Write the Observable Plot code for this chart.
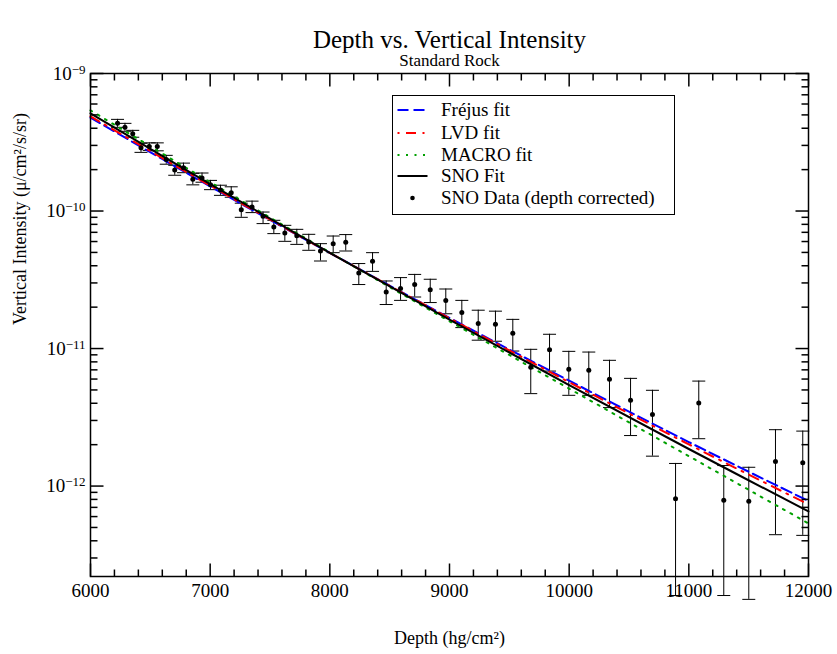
<!DOCTYPE html>
<html><head><meta charset="utf-8">
<script src="https://cdn.jsdelivr.net/npm/d3@7"></script>
<script src="https://cdn.jsdelivr.net/npm/@observablehq/plot@0.6"></script>
<style>
body{margin:0;background:#fff;}
#wrap{position:relative;width:837px;height:654px;font-family:"Liberation Serif","Times New Roman",serif;}
#wrap svg text{font-family:"Liberation Serif","Times New Roman",serif !important;font-variant:normal !important;}
#legend{position:absolute;left:392px;top:95px;width:283px;height:120px;border:1.5px solid #000;background:#fff;box-sizing:border-box;}
.row{position:absolute;left:0;height:22px;width:280px;}
.row svg{position:absolute;left:0;top:0;}
.row span{position:absolute;left:48px;top:0;line-height:22px;font-size:19px;white-space:nowrap;color:#000;}
</style></head><body><div id="wrap"></div>
<script>
// ---- SNO data (depth corrected) ----
const depth = [6226, 6288, 6353, 6422, 6491, 6558, 6633, 6704, 6777, 6855, 6932, 7003, 7086, 7176, 7260, 7350, 7442, 7532, 7624, 7724, 7824, 7922, 8028, 8133, 8242, 8357, 8471, 8591, 8709, 8839, 8969, 9103, 9240, 9384, 9529, 9679, 9836, 9997, 10164, 10337, 10513, 10696, 10889, 11083, 11292, 11501, 11724, 11952];
const intensity = [4.34e-10, 4.06e-10, 3.64e-10, 2.89e-10, 2.95e-10, 2.94e-10, 2.37e-10, 1.99e-10, 2.06e-10, 1.70e-10, 1.74e-10, 1.55e-10, 1.42e-10, 1.36e-10, 1.02e-10, 1.07e-10, 9.15e-11, 7.65e-11, 6.92e-11, 6.60e-11, 5.95e-11, 5.12e-11, 5.79e-11, 5.92e-11, 3.54e-11, 4.31e-11, 2.58e-11, 2.73e-11, 2.92e-11, 2.68e-11, 2.24e-11, 1.83e-11, 1.52e-11, 1.50e-11, 1.29e-11, 7.30e-12, 9.82e-12, 7.06e-12, 6.94e-12, 5.97e-12, 4.20e-12, 3.31e-12, 8.10e-13, 4.02e-12, 7.87e-13, 7.74e-13, 1.51e-12, 1.48e-12];
const upper = [4.64e-10, 4.34e-10, 3.86e-10, 3.11e-10, 3.13e-10, 3.13e-10, 2.54e-10, 2.15e-10, 2.23e-10, 1.88e-10, 1.89e-10, 1.67e-10, 1.54e-10, 1.50e-10, 1.14e-10, 1.18e-10, 9.83e-11, 8.56e-11, 7.87e-11, 7.36e-11, 6.77e-11, 5.79e-11, 6.58e-11, 6.74e-11, 4.15e-11, 4.98e-11, 3.10e-11, 3.28e-11, 3.46e-11, 3.19e-11, 2.71e-11, 2.24e-11, 1.90e-11, 1.87e-11, 1.63e-11, 9.87e-12, 1.27e-11, 9.54e-12, 9.43e-12, 8.21e-12, 6.07e-12, 4.97e-12, 1.46e-12, 5.80e-12, 1.41e-12, 1.37e-12, 2.57e-12, 2.51e-12];
const lower = [4.06e-10, 3.80e-10, 3.44e-10, 2.67e-10, 2.76e-10, 2.74e-10, 2.19e-10, 1.82e-10, 1.90e-10, 1.55e-10, 1.62e-10, 1.43e-10, 1.30e-10, 1.26e-10, 9.00e-11, 9.74e-11, 8.10e-11, 6.85e-11, 6.02e-11, 5.72e-11, 5.18e-11, 4.33e-11, 4.98e-11, 5.12e-11, 2.92e-11, 3.64e-11, 2.09e-11, 2.24e-11, 2.37e-11, 2.16e-11, 1.79e-11, 1.42e-11, 1.15e-11, 1.13e-11, 9.59e-12, 4.70e-12, 6.86e-12, 4.57e-12, 4.57e-12, 3.72e-12, 2.33e-12, 1.65e-12, 1.60e-13, 2.21e-12, 1.60e-13, 1.50e-13, 4.43e-13, 4.38e-13];

// ---- fit curves ----
const fitDepth = [6000, 7000, 8000, 9000, 10000, 11000, 12000];
const frejusFit = [4.78e-10, 1.51e-10, 4.96e-11, 1.67e-11, 5.84e-12, 2.09e-12, 7.79e-13];
const lvdFit    = [4.88e-10, 1.53e-10, 4.96e-11, 1.66e-11, 5.69e-12, 2.01e-12, 7.35e-13];
const macroFit  = [5.40e-10, 1.62e-10, 5.00e-11, 1.58e-11, 5.11e-12, 1.65e-12, 5.35e-13];
const snoFit    = [5.13e-10, 1.57e-10, 4.96e-11, 1.62e-11, 5.41e-12, 1.86e-12, 6.54e-13];

// ---- ticks / labels ----
const xMajor = [6000, 7000, 8000, 9000, 10000, 11000, 12000];
const yMajor = [1e-12, 1e-11, 1e-10, 1e-9];
const legendLabels = ["Fréjus fit", "LVD fit", "MACRO fit", "SNO Fit", "SNO Data (depth corrected)"];
const titleText = "Depth vs. Vertical Intensity";
const subtitleText = "Standard Rock";
const xLabel = "Depth (hg/cm²)";
const yLabel = "Vertical Intensity (μ/cm²/s/sr)";

const xMinor = [];
for (let v = 6200; v < 12000; v += 200) if (v % 1000 !== 0) xMinor.push(v);
const yMinor = [];
for (let k = -13; k <= -10; k++) for (let m = 2; m <= 9; m++) { const v = m * Math.pow(10, k); if (v >= 2.2e-13 && v < 1e-9) yMinor.push(v); }

const pts = depth.map((d, i) => ({depth: d, value: intensity[i], hi: upper[i], lo: lower[i]}));
const fitSeries = [
  {name: legendLabels[0], vals: frejusFit, stroke: "#0000ff", dash: "11,5"},
  {name: legendLabels[1], vals: lvdFit, stroke: "#ff0000", dash: "10,6.5,2,6.5"},
  {name: legendLabels[2], vals: macroFit, stroke: "#00a000", dash: "2,6.5"},
  {name: legendLabels[3], vals: snoFit, stroke: "#000000", dash: null}
];

const sym = (f) => ({draw(c, s) { const r = Math.sqrt(s / Math.PI); f(c, r); }});
const capSym = sym((c, r) => { c.moveTo(-r, 0); c.lineTo(r, 0); });
const symL = sym((c, r) => { c.moveTo(0, 0); c.lineTo(r, 0); });
const symR = sym((c, r) => { c.moveTo(0, 0); c.lineTo(-r, 0); });
const symB = sym((c, r) => { c.moveTo(0, 0); c.lineTo(0, -r); });
const symT = sym((c, r) => { c.moveTo(0, 0); c.lineTo(0, r); });
const tk = {stroke: "black", fill: "none", strokeWidth: 1.5};

const serif = "Liberation Serif";
const txt = {fontFamily: serif, lineAnchor: "middle", fill: "black"};

const marks = [];
marks.push(Plot.ruleX(pts, {x: "depth", y1: "lo", y2: "hi", stroke: "black", strokeWidth: 1}));
marks.push(Plot.dot(pts, {x: "depth", y: "lo", symbol: capSym, r: 6.5, stroke: "black", fill: "none", strokeWidth: 1}));
marks.push(Plot.dot(pts, {x: "depth", y: "hi", symbol: capSym, r: 6.5, stroke: "black", fill: "none", strokeWidth: 1}));
for (const s of fitSeries) {
  const rows = fitDepth.map((d, i) => ({depth: d, value: s.vals[i]}));
  marks.push(Plot.line(rows, {x: "depth", y: "value", stroke: s.stroke, strokeWidth: 2, strokeDasharray: s.dash || undefined, curve: "catmull-rom"}));
}
marks.push(Plot.dot(pts, {x: "depth", y: "value", r: 2.5, fill: "black"}));
// ticks inside the frame on all four sides
marks.push(Plot.dot(yMajor, {y: d => d, frameAnchor: "left", symbol: symL, r: 13, ...tk}));
marks.push(Plot.dot(yMinor, {y: d => d, frameAnchor: "left", symbol: symL, r: 7, ...tk}));
marks.push(Plot.dot(yMajor, {y: d => d, frameAnchor: "right", symbol: symR, r: 13, ...tk}));
marks.push(Plot.dot(yMinor, {y: d => d, frameAnchor: "right", symbol: symR, r: 7, ...tk}));
marks.push(Plot.dot(xMajor, {x: d => d, frameAnchor: "bottom", symbol: symB, r: 13, ...tk}));
marks.push(Plot.dot(xMinor, {x: d => d, frameAnchor: "bottom", symbol: symB, r: 7, ...tk}));
marks.push(Plot.dot(xMajor, {x: d => d, frameAnchor: "top", symbol: symT, r: 13, ...tk}));
marks.push(Plot.dot(xMinor, {x: d => d, frameAnchor: "top", symbol: symT, r: 7, ...tk}));
marks.push(Plot.frame({stroke: "black", strokeWidth: 1.5}));
marks.push(Plot.axisX({ticks: xMajor, tickSize: 0, tickPadding: 7, tickFormat: d => String(d), fontSize: 19, fontFamily: serif, fontVariant: "normal", label: null}));
marks.push(Plot.axisY({ticks: yMajor, tickSize: 0, tickPadding: 5, tickFormat: d => "10^" + Math.round(Math.log10(d)), fontSize: 19, fontFamily: serif, fontVariant: "normal", label: null}));
marks.push(Plot.text([titleText], {text: d => d, frameAnchor: "top", dy: -34, fontSize: 25, ...txt}));
marks.push(Plot.text([subtitleText], {text: d => d, frameAnchor: "top", dy: -13, fontSize: 17, ...txt}));
marks.push(Plot.text([xLabel], {text: d => d, frameAnchor: "bottom", dy: 62, fontSize: 18, ...txt}));
marks.push(Plot.text([yLabel], {text: d => d, frameAnchor: "left", dx: -70, rotate: -90, fontSize: 18, ...txt}));

const svg = Plot.plot({
  width: 837, height: 654,
  marginLeft: 90, marginRight: 29, marginTop: 73, marginBottom: 78,
  style: {fontFamily: serif, fontSize: "19px", background: "white", overflow: "visible", color: "black"},
  x: {domain: [6000, 12000], label: null},
  y: {type: "log", domain: [2.2e-13, 1e-9], label: null},
  marks
});

// superscript exponents on the y tick labels
d3.select(svg).selectAll('g[aria-label="y-axis tick label"] text').each(function () {
  const t = this.textContent;
  const parts = t.split("^");
  if (parts.length === 2) {
    this.textContent = parts[0];
    const ts = document.createElementNS("http://www.w3.org/2000/svg", "tspan");
    ts.setAttribute("dy", "-0.45em");
    ts.setAttribute("font-size", "13px");
    ts.textContent = parts[1].replace("-", "\u2212");
    this.appendChild(ts);
  }
});

const wrap = document.getElementById("wrap");
wrap.appendChild(svg);

// legend
const legend = document.createElement("div");
legend.id = "legend";
const centers = [15.7, 38.3, 60, 81.7, 103.3];
const ns = "http://www.w3.org/2000/svg";
legendLabels.forEach((lab, i) => {
  const row = document.createElement("div");
  row.className = "row";
  row.style.top = (centers[i] - 1.5 - 11) + "px";
  const s = document.createElementNS(ns, "svg");
  s.setAttribute("width", "44"); s.setAttribute("height", "22");
  if (i < 4) {
    const f = fitSeries[i];
    const l = document.createElementNS(ns, "line");
    l.setAttribute("x1", "4.5"); l.setAttribute("x2", "34.5");
    l.setAttribute("y1", "11"); l.setAttribute("y2", "11");
    l.setAttribute("stroke", f.stroke); l.setAttribute("stroke-width", "2");
    if (i === 1) { l.setAttribute("stroke-dasharray", "2,6.5,10,6.5"); }
    else if (f.dash) l.setAttribute("stroke-dasharray", f.dash);
    s.appendChild(l);
  } else {
    const c = document.createElementNS(ns, "circle");
    c.setAttribute("cx", "19.5"); c.setAttribute("cy", "11"); c.setAttribute("r", "2.3");
    c.setAttribute("fill", "black");
    s.appendChild(c);
  }
  row.appendChild(s);
  const sp = document.createElement("span");
  sp.textContent = lab;
  row.appendChild(sp);
  legend.appendChild(row);
});
wrap.appendChild(legend);
</script></body></html>
